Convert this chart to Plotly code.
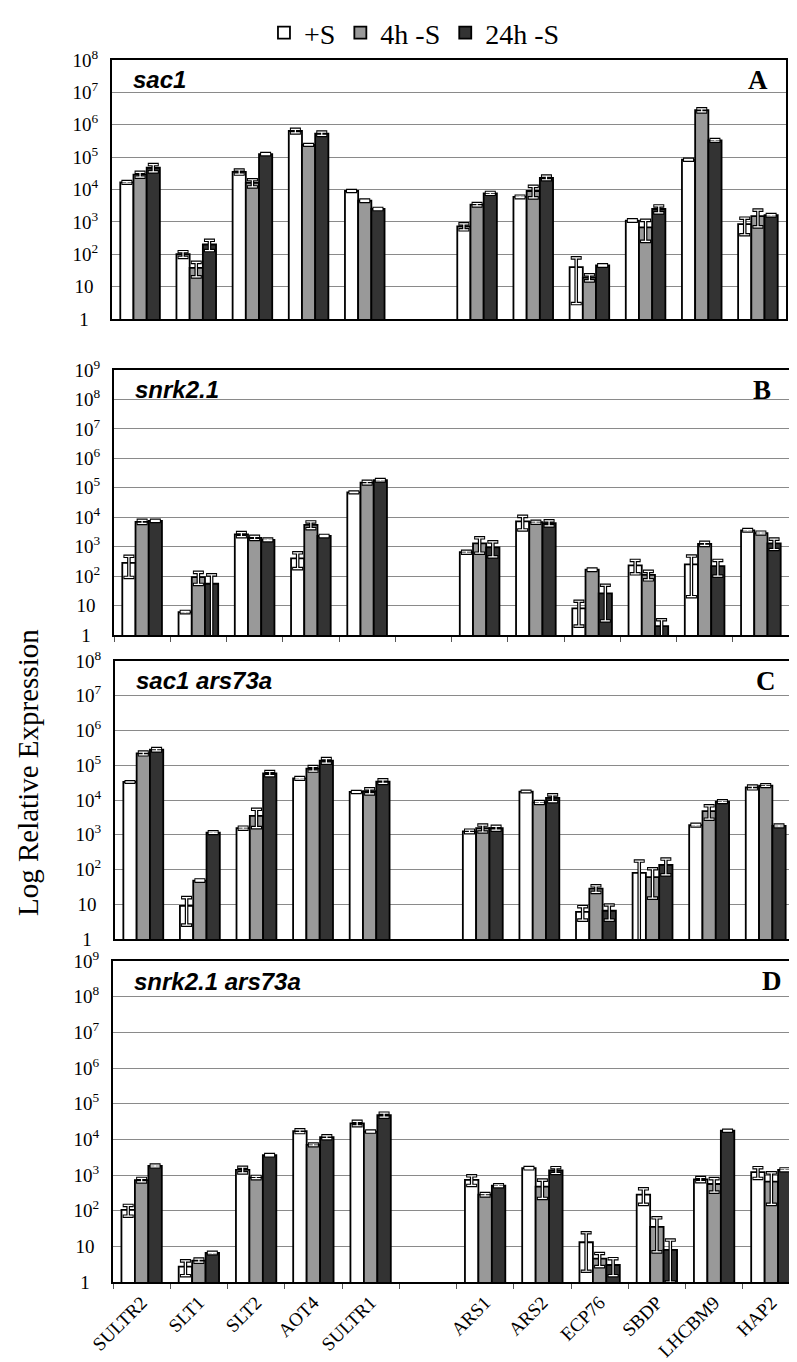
import plotly.graph_objects as go

W, H = 797, 1362

genes = ["SULTR2", "SLT1", "SLT2", "AOT4", "SULTR1", " ",
         "ARS1", "ARS2", "ECP76", "SBDP", "LHCBM9", "HAP2"]
series_names = ["+S", "4h -S", "24h -S"]
series_colors = ["#ffffff", "#999999", "#333333"]

# ---- Panel A: sac1 ----
a_plus = [1.66e4, 100, 3.5e4, 6.4e5, 9000, None, 720, 5.9e3, 40, 1.1e3, 8.3e4, 850]
a_4h = [2.9e4, 38, 1.6e4, 2.4e5, 4500, None, 3.4e3, 9e3, 19, 680, 2.8e6, 1.5e3]
a_24h = [4.7e4, 200, 1.24e5, 5.3e5, 2500, None, 7.6e3, 2.3e4, 45, 2.5e3, 3.3e5, 1.6e3]
a_plus_err = [1000, 20, 5000, 8e4, 300, None, 150, 300, 37, 50, 2000, 450]
a_4h_err = [5000, 18, 4000, 5000, 200, None, 300, 3500, 4, 430, 3e5, 800]
a_24h_err = [1.2e4, 70, 5000, 6e4, 100, None, 500, 3000, 2, 600, 2e4, 80]

# ---- Panel B: snrk2.1 ----
b_plus = [280, 6, 2.6e3, 400, 7e4, None, 650, 7.2e3, 8, 230, 250, 3.6e3]
b_4h = [7000, 93, 2e3, 5.5e3, 1.5e5, None, 1.3e3, 6.8e3, 165, 110, 1.25e3, 2.9e3]
b_24h = [7500, 55, 1.7e3, 2.3e3, 1.8e5, None, 950, 6.3e3, 26, 2, 220, 1.3e3]
b_plus_err = [190, 0.3, 400, 220, 2000, None, 50, 3500, 6, 110, 230, 200]
b_4h_err = [800, 41, 250, 1400, 1.5e4, None, 700, 500, 8, 35, 150, 200]
b_24h_err = [300, 55, 100, 100, 1e4, None, 500, 1200, 23, 1.3, 120, 500]

# ---- Panel C: sac1 ars73a ----
c_plus = [3.3e4, 9, 1.55e3, 4.2e4, 1.7e4, None, 1.25e3, 1.75e4, 6, 80, 1.9e3, 2.3e4]
c_4h = [2.2e5, 48, 3.5e3, 8e4, 1.8e4, None, 1.55e3, 8.5e3, 28, 60, 4.8e3, 2.6e4]
c_24h = [2.8e5, 1.15e3, 5.8e4, 1.35e5, 3.4e4, None, 1.55e3, 1.15e4, 6.5, 135, 9e3, 1.8e3]
c_plus_err = [500, 6.5, 100, 2000, 500, None, 100, 200, 2.5, 95, 100, 2000]
c_4h_err = [2e4, 2, 1900, 1.2e4, 3000, None, 350, 500, 6, 45, 2000, 1500]
c_24h_err = [2e4, 60, 8000, 2e4, 4000, None, 200, 2500, 3, 65, 500, 100]

# ---- Panel D: snrk2.1 ars73a ----
d_plus = [105, 2.7, 1.4e3, 1.7e4, 2.8e4, None, 730, 1.55e3, 13, 280, 750, 1.2e3]
d_4h = [720, 4, 850, 7e3, 1.65e4, None, 280, 470, 4.5, 35, 560, 650]
d_24h = [1800, 6.5, 3.6e3, 1.15e4, 4.8e4, None, 500, 1.35e3, 3, 8, 1.75e4, 1.4e3]
d_plus_err = [35, 1.2, 250, 1500, 4000, None, 220, 60, 11, 130, 100, 400]
d_4h_err = [80, 0.4, 60, 400, 500, None, 20, 250, 1.8, 28, 230, 500]
d_24h_err = [100, 0.3, 150, 1000, 6000, None, 30, 250, 1.5, 7, 500, 80]

panels = [
    dict(name="sac1", letter="A", vals=[a_plus, a_4h, a_24h],
         errs=[a_plus_err, a_4h_err, a_24h_err], decades=8,
         px=(104, 778), py=(52, 311), ticks=False),
    dict(name="snrk2.1", letter="B", vals=[b_plus, b_4h, b_24h],
         errs=[b_plus_err, b_4h_err, b_24h_err], decades=9,
         px=(106, 781), py=(362, 627), ticks=True),
    dict(name="sac1 ars73a", letter="C", vals=[c_plus, c_4h, c_24h],
         errs=[c_plus_err, c_4h_err, c_24h_err], decades=8,
         px=(107, 786), py=(653, 931), ticks=False),
    dict(name="snrk2.1 ars73a", letter="D", vals=[d_plus, d_4h, d_24h],
         errs=[d_plus_err, d_4h_err, d_24h_err], decades=9,
         px=(105, 792), py=(953, 1274), ticks=True),
]

bar_w = 0.235
offsets = [-1.5 * bar_w, -0.5 * bar_w, 0.5 * bar_w]
SERIF = "Liberation Serif, Times New Roman, serif"
SANS = "Liberation Sans, Arial, sans-serif"

fig = go.Figure()
layout = {}
annotations = []

for i, p in enumerate(panels):
    k = "" if i == 0 else str(i + 1)
    xref, yref = "x" + k, "y" + k
    # main bars with black (outer) error bars
    for s in range(3):
        fig.add_trace(go.Bar(
            x=genes, y=p["vals"][s], xaxis=xref, yaxis=yref,
            name=series_names[s], showlegend=(i == 0),
            legendgroup=series_names[s],
            offset=offsets[s], width=bar_w,
            marker=dict(color=series_colors[s], line=dict(color="black", width=1.8)),
            error_y=dict(type="data", array=p["errs"][s], symmetric=True,
                         color="black", thickness=3.6, width=5.5),
        ))
    # white inner stroke for hollow-looking error bars
    for s in range(3):
        fig.add_trace(go.Bar(
            x=genes, y=p["vals"][s], xaxis=xref, yaxis=yref,
            showlegend=False, hoverinfo="skip",
            offset=offsets[s], width=bar_w,
            marker=dict(color="rgba(0,0,0,0)", line=dict(width=0)),
            error_y=dict(type="data", array=p["errs"][s], symmetric=True,
                         color="white", thickness=1.2, width=4.5),
        ))

    x0, x1 = p["px"]
    y0, y1 = p["py"]
    n = p["decades"]
    tickvals = [10 ** e for e in range(n + 1)]
    ticktext = []
    for e in range(n + 1):
        if e == 0:
            ticktext.append("1\u00a0\u00a0")
        elif e == 1:
            ticktext.append("10\u00a0")
        else:
            ticktext.append("10<sup>%d</sup>" % e)
    last = (i == len(panels) - 1)
    layout["xaxis" + k] = dict(
        domain=[x0 / W, x1 / W], anchor=yref, type="category",
        categoryorder="array", categoryarray=genes, range=[-0.5, len(genes) - 0.5],
        showline=True, mirror=True, linecolor="black", linewidth=2,
        showgrid=False, zeroline=False,
        ticks="outside" if p["ticks"] else "", tickson="boundaries",
        ticklen=5, tickcolor="#555555", tickwidth=1,
        showticklabels=last, tickangle=-45,
        tickfont=dict(family=SERIF, size=19, color="black"),
        automargin=False, fixedrange=True,
    )
    layout["yaxis" + k] = dict(
        domain=[1 - y1 / H, 1 - y0 / H], anchor=xref, type="log",
        range=[0, n], tickvals=tickvals, ticktext=ticktext,
        showgrid=True, gridcolor="#8a8a8a", gridwidth=1.2,
        showline=True, mirror=True, linecolor="black", linewidth=2,
        ticks="", ticklabelstandoff=8, zeroline=False,
        tickfont=dict(family=SERIF, size=19, color="black"),
        automargin=False, fixedrange=True,
    )
    annotations.append(dict(
        text="<b><i>%s</i></b>" % p["name"], xref="paper", yref="paper",
        x=(x0 + 19) / W, y=1 - (y0 + 20) / H, xanchor="left", yanchor="middle",
        showarrow=False, font=dict(family=SANS, size=24, color="black"),
    ))
    annotations.append(dict(
        text="<b>%s</b>" % p["letter"], xref="paper", yref="paper",
        x=(x1 - 16) / W, y=1 - (y0 + 20) / H, xanchor="right", yanchor="middle",
        showarrow=False, font=dict(family=SERIF, size=27, color="black"),
    ))

annotations.append(dict(
    text="Log Relative Expression", xref="paper", yref="paper",
    x=20 / W, y=1 - 765 / H, xanchor="center", yanchor="middle",
    textangle=-90, showarrow=False,
    font=dict(family=SERIF, size=29, color="black"),
))

fig.update_layout(
    width=W, height=H,
    margin=dict(l=0, r=0, t=0, b=0),
    paper_bgcolor="white", plot_bgcolor="white",
    barmode="overlay",
    showlegend=True,
    legend=dict(orientation="h", x=0.51, xanchor="center", y=1.0, yanchor="top",
                font=dict(family=SERIF, size=28, color="black"),
                itemwidth=30, bgcolor="rgba(0,0,0,0)", traceorder="normal",
                borderwidth=0, tracegroupgap=0),
    annotations=annotations,
    **layout,
)

fig.write_html("out.html")
